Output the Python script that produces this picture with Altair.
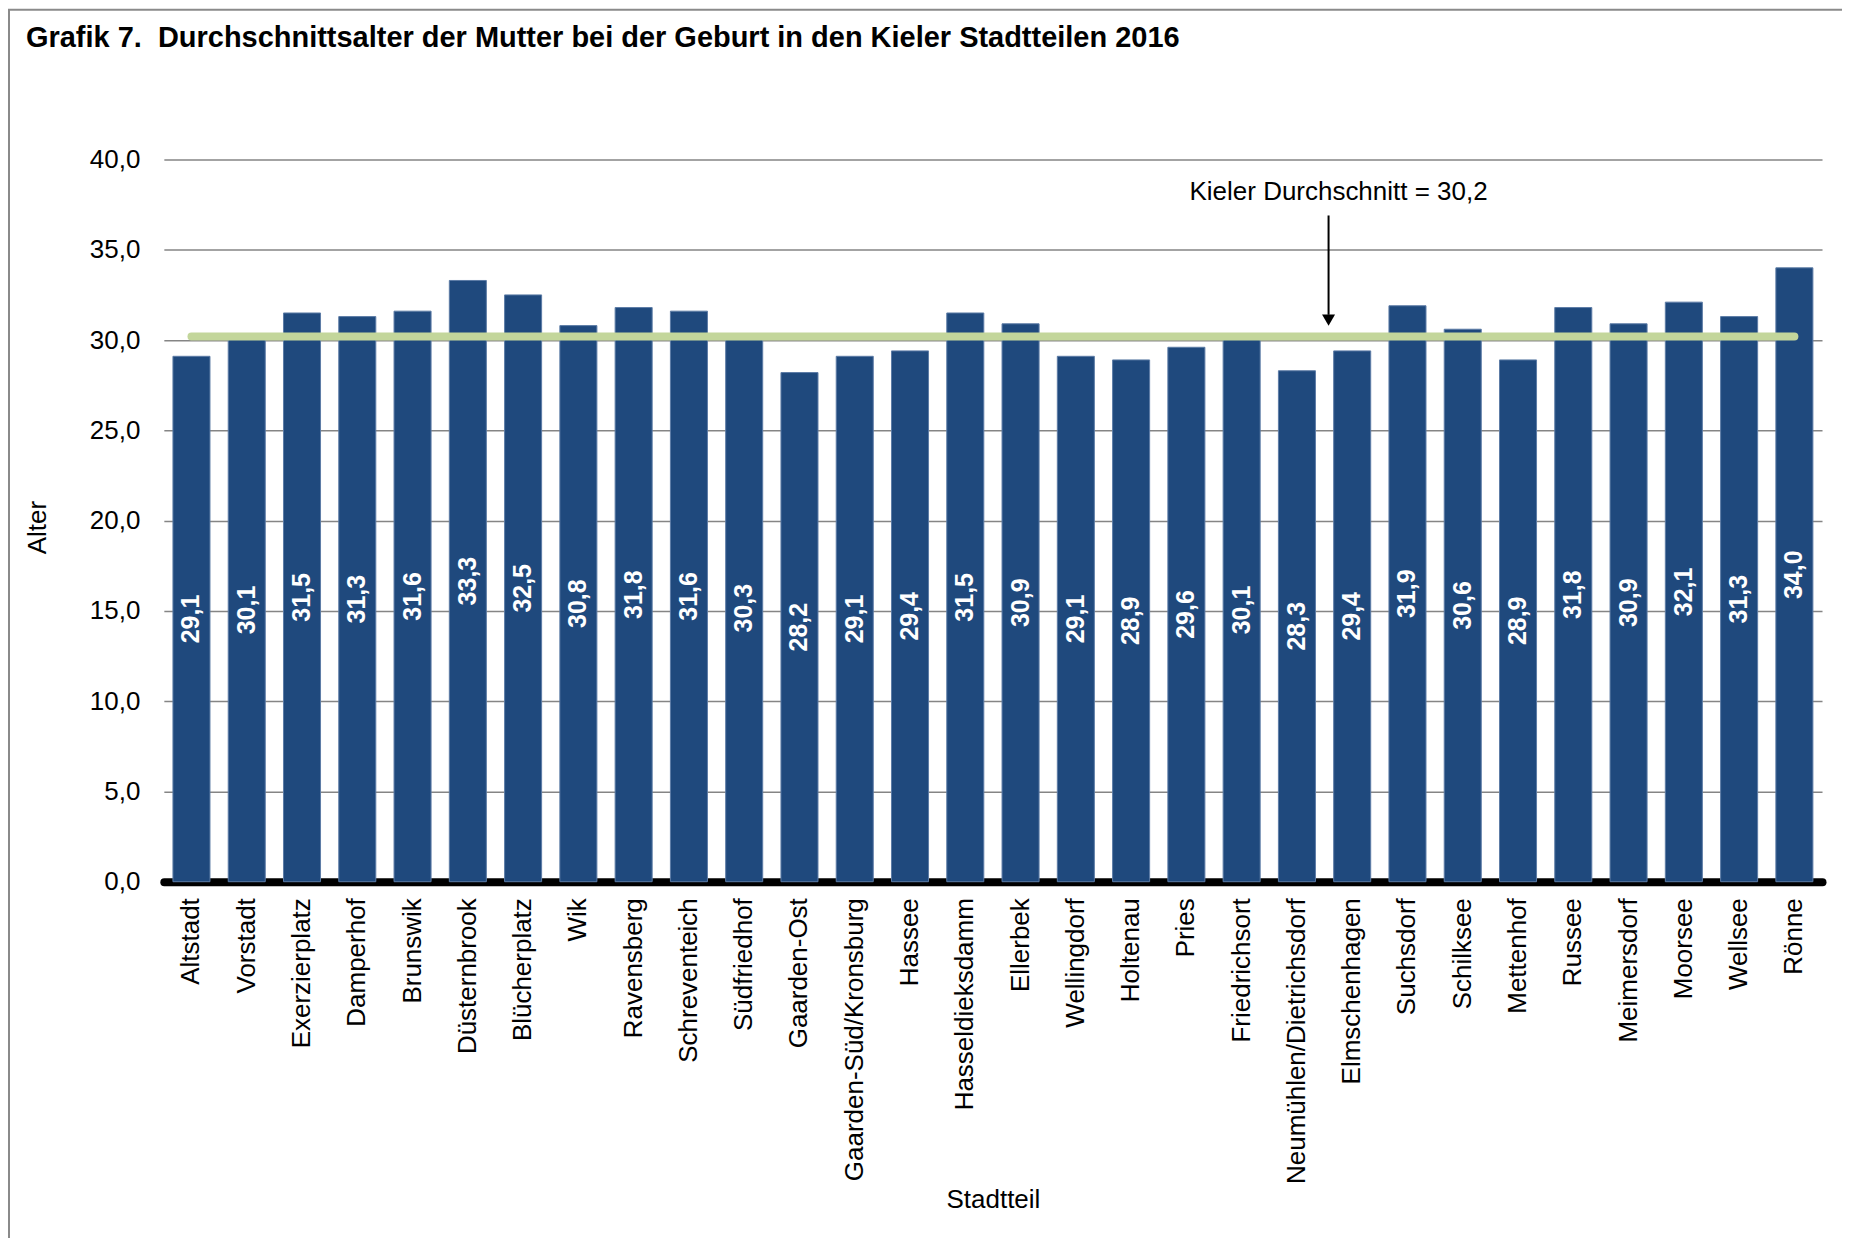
import altair as alt
import pandas as pd

# ---- data ----
stadtteile = [
    "Altstadt", "Vorstadt", "Exerzierplatz", "Damperhof", "Brunswik",
    "Düsternbrook", "Blücherplatz", "Wik", "Ravensberg", "Schreventeich",
    "Südfriedhof", "Gaarden-Ost", "Gaarden-Süd/Kronsburg", "Hassee",
    "Hasseldieksdamm", "Ellerbek", "Wellingdorf", "Holtenau", "Pries",
    "Friedrichsort", "Neumühlen/Dietrichsdorf", "Elmschenhagen", "Suchsdorf",
    "Schilksee", "Mettenhof", "Russee", "Meimersdorf", "Moorsee", "Wellsee",
    "Rönne",
]
alter = [
    29.1, 30.1, 31.5, 31.3, 31.6, 33.3, 32.5, 30.8, 31.8, 31.6,
    30.3, 28.2, 29.1, 29.4, 31.5, 30.9, 29.1, 28.9, 29.6, 30.1,
    28.3, 29.4, 31.9, 30.6, 28.9, 31.8, 30.9, 32.1, 31.3, 34.0,
]
kiel_durchschnitt = 30.2
y_ticks = [0, 5, 10, 15, 20, 25, 30, 35, 40]

title_text = "Grafik 7.\u00a0 Durchschnittsalter der Mutter bei der Geburt in den Kieler Stadtteilen 2016"
annot_text = "Kieler Durchschnitt = 30,2"

df = pd.DataFrame({"Stadtteil": stadtteile, "Alter": alter})
df["label"] = [f"{v:.1f}".replace(".", ",") for v in alter]
df["avg"] = kiel_durchschnitt

FONT = "Liberation Sans"
W, H = 1660, 723
BAR = "#1F497D"
GREEN = "#C3D69B"

x_enc = alt.X(
    "Stadtteil:N",
    sort=stadtteile,
    scale=alt.Scale(paddingInner=0.33, paddingOuter=0.165),
    axis=alt.Axis(
        title="Stadtteil",
        labelAngle=270,
        labelFont=FONT,
        labelFontSize=26,
        labelColor="black",
        labelPadding=16,
        labelLimit=500,
        ticks=False,
        domainColor="black",
        domainWidth=8,
        domainCap="round",
        grid=False,
        titleFont=FONT,
        titleFontSize=26,
        titleFontWeight="normal",
        titleColor="black",
        titleX=W / 2,
        titleY=318,
        titleAlign="center",
        titleBaseline="middle",
    ),
)

y_axis = alt.Axis(
    values=y_ticks,
    labelExpr="replace(format(datum.value, '.1f'), '.', ',')",
    labelFont=FONT,
    labelFontSize=26,
    labelColor="black",
    labelPadding=24,
    ticks=False,
    domain=False,
    grid=True,
    gridColor="#858585",
    gridWidth=1.5,
    title="Alter",
    titleAngle=270,
    titleX=-126,
    titleY=368,
    titleFont=FONT,
    titleFontSize=26,
    titleFontWeight="normal",
    titleAlign="center",
    titleBaseline="middle",
    titleColor="black",
)
y_scale = alt.Scale(domain=[0, 40], nice=False)

bars = alt.Chart(df).mark_bar(color=BAR, stroke="#5C7BA6", strokeWidth=1).encode(
    x=x_enc,
    y=alt.Y("Alter:Q", scale=y_scale, axis=y_axis, title="Alter"),
)

avg_line = alt.Chart(df).mark_line(
    color=GREEN, strokeWidth=8, strokeCap="round"
).encode(
    x=alt.X("Stadtteil:N", sort=stadtteile),
    y=alt.Y("avg:Q", title="Alter"),
)

labels = alt.Chart(df).transform_calculate(mid="datum.Alter / 2").mark_text(
    angle=270, color="white", fontWeight="bold", fontSize=25, font=FONT,
    align="center", baseline="middle",
).encode(
    x=alt.X("Stadtteil:N", sort=stadtteile),
    y=alt.Y("mid:Q", title="Alter"),
    text="label:N",
)

one = pd.DataFrame({"t": [annot_text]})

annot = alt.Chart(one).mark_text(
    font=FONT, fontSize=26, color="black", align="center", baseline="middle"
).encode(x=alt.value(1176), y=alt.datum(38.2), text="t:N")

arrow_line = alt.Chart(one).mark_rule(color="black", strokeWidth=2).encode(
    x=alt.value(1166), y=alt.datum(36.9), y2=alt.datum(31.4)
)

arrow_head = alt.Chart(one).mark_point(
    shape="triangle-down", filled=True, color="black", size=170, opacity=1
).encode(x=alt.value(1166), y=alt.datum(31.1))

title_df = pd.DataFrame({"t": [title_text]})
title = alt.Chart(title_df).mark_text(
    font=FONT, fontSize=29, fontWeight="bold", color="black",
    align="left", baseline="middle",
).encode(x=alt.value(-138), y=alt.value(-122), text="t:N")

frame = alt.Chart(pd.DataFrame({"a": [0]})).mark_rect(
    fillOpacity=0, stroke="#8A8A8A", strokeWidth=2, clip=False
).encode(
    x=alt.value(-155), x2=alt.value(1900), y=alt.value(-150), y2=alt.value(1400)
)

chart = alt.layer(
    bars, avg_line, labels, annot, arrow_line, arrow_head, title, frame
).properties(
    width=W,
    height=H,
    autosize=alt.AutoSizeParams(type="none"),
    padding={"left": 156, "top": 151, "right": 20, "bottom": 356},
    background="white",
).configure_view(strokeWidth=0)

chart.save("out.html", embed_options={"renderer": "svg", "actions": False})
